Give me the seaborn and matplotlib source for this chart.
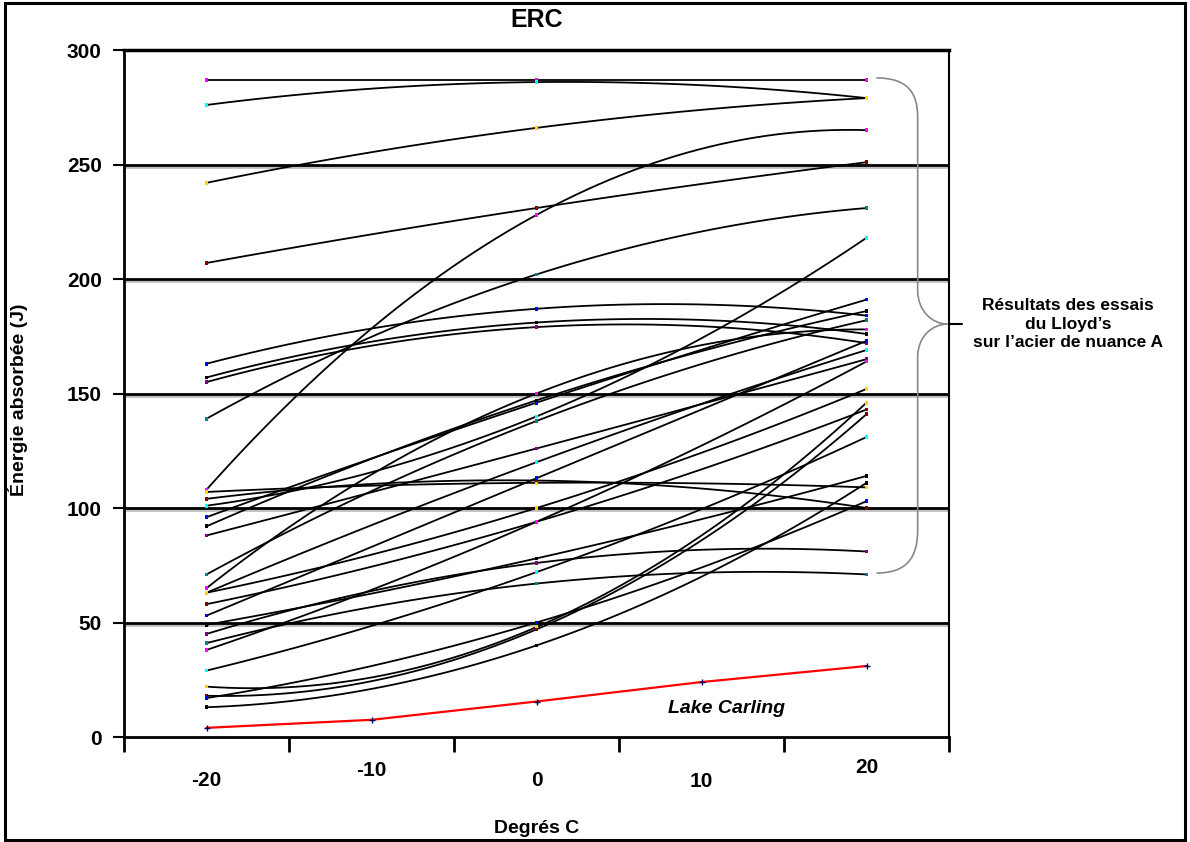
import matplotlib.pyplot as plt
import matplotlib.patheffects as pe
from matplotlib.path import Path
from matplotlib.patches import PathPatch, Rectangle
import seaborn as sns
import numpy as np
import pandas as pd

# Lloyd's tests, energy (J) read at -20, 0 and 20 degrees C
temps = [-20, 0, 20]
e_m20 = [287, 276, 242, 207, 163, 157, 155, 139, 108, 101, 107, 104, 96, 92, 88,
         71, 65, 63, 63, 58, 53, 49, 45, 41, 38, 29, 22, 18, 17, 13]
e_0 = [287, 286, 266, 231, 187, 181, 179, 202, 228, 140, 111, 112, 146, 147, 126,
       138, 150, 120, 100, 94, 113, 78, 76, 67, 94, 72, 48, 47, 50, 40]
e_20 = [287, 279, 279, 251, 184, 176, 172, 231, 265, 218, 109, 100, 191, 186, 165,
        182, 178, 169, 152, 143, 173, 114, 81, 71, 164, 131, 146, 141, 103, 111]

# Lake Carling
lake_t = [-20, -10, 0, 10, 20]
lake_e = [4, 7.5, 15.5, 24, 31]

x_labels = ['-20', '-10', '0', '10', '20']
grid_vals = [50, 100, 150, 200, 250]
marker_colors = ['#ff00ff', '#00ffff', '#ffd700', '#800000', '#0000ff', '#000000', '#800080', '#008080']

sns.set_theme(style='white')
plt.rcParams['font.family'] = ['Liberation Sans Narrow', 'Liberation Sans', 'DejaVu Sans']
plt.rcParams['font.weight'] = 'bold'
for key in ['text.color', 'axes.labelcolor', 'xtick.color', 'ytick.color']:
    plt.rcParams[key] = 'black'

# smooth curves through the three points (like the Excel smoothed line)
rows = []
pts = []
for i in range(len(e_m20)):
    ys = [e_m20[i], e_0[i], e_20[i]]
    c = np.polyfit(temps, ys, 2)
    xx = np.linspace(-20, 20, 60)
    for a, b in zip(xx, np.polyval(c, xx)):
        rows.append({'essai': i, 't': a, 'e': b})
    for a, b in zip(temps, ys):
        pts.append({'essai': i, 't': a, 'e': b})
curves = pd.DataFrame(rows)
points = pd.DataFrame(pts)
palette = {i: marker_colors[i % len(marker_colors)] for i in range(len(e_m20))}

fig = plt.figure(figsize=(11.9, 8.42), dpi=100)
ax = fig.add_axes([0.1042, 0.1247, 0.6933, 0.8159])

for v in grid_vals:
    ax.axhline(v, color='black', lw=2, zorder=1,
               path_effects=[pe.SimpleLineShadow(offset=(0, -1.5), shadow_color='gray', alpha=0.5), pe.Normal()])

sns.lineplot(data=curves, x='t', y='e', units='essai', estimator=None, sort=False,
             color='black', lw=1.3, ax=ax, legend=False, zorder=2)
sns.scatterplot(data=points, x='t', y='e', hue='essai', palette=palette, marker='s', s=7,
                linewidth=0, legend=False, ax=ax, zorder=3)

sns.lineplot(x=lake_t, y=lake_e, color='red', lw=1.6, ax=ax, zorder=4)
ax.scatter(lake_t, lake_e, marker='+', color='#000060', s=20, lw=1, zorder=5)

ax.set_xlim(-25, 25)
ax.set_ylim(0, 300)
ax.set_xticks(np.arange(-25, 26, 10))
ax.set_xticklabels([])
ax.set_yticks(np.arange(0, 301, 50))
ax.set_yticklabels([str(v) for v in range(0, 301, 50)], fontsize=15, fontweight='bold')
ax.tick_params(axis='y', direction='out', length=8, width=1.5, pad=8, left=True, color='black')
ax.tick_params(axis='x', direction='out', length=11, width=2, bottom=True, color='black')
ax.set_xlabel('')
ax.set_ylabel('')
for side, lw in [('top', 2.5), ('right', 1.5), ('left', 2), ('bottom', 2)]:
    ax.spines[side].set_visible(True)
    ax.spines[side].set_color('black')
    ax.spines[side].set_linewidth(lw)

# staggered x labels
label_y = [-0.064, -0.049, -0.064, -0.065, -0.045]
for t, lab, yy in zip(lake_t, x_labels, label_y):
    ax.text(t, yy, lab, transform=ax.get_xaxis_transform(), ha='center', va='center',
            fontsize=15, fontweight='bold')

ax.text(11.5, 12.5, 'Lake Carling', style='italic', fontweight='bold', fontsize=14,
        ha='center', va='center')

# brace on the right
verts = [(20.6, 287.8), (22.4, 287.8), (23.1, 282), (23.1, 270.7),
         (23.1, 195),
         (23.1, 186), (24.0, 180.3), (24.9, 180.3),
         (24.0, 180.3), (23.1, 175), (23.1, 166),
         (23.1, 90.4),
         (23.1, 78), (22.4, 71.6), (20.6, 71.6)]
codes = [Path.MOVETO, Path.CURVE4, Path.CURVE4, Path.CURVE4,
         Path.LINETO,
         Path.CURVE4, Path.CURVE4, Path.CURVE4,
         Path.CURVE4, Path.CURVE4, Path.CURVE4,
         Path.LINETO,
         Path.CURVE4, Path.CURVE4, Path.CURVE4]
ax.add_patch(PathPatch(Path(verts, codes), fill=False, ec='#888888', lw=1.2, clip_on=False, zorder=5))
ax.plot([25, 25.8], [180.3, 180.3], color='black', lw=1.5, clip_on=False)

fig.text(0.8975, 0.615, 'Résultats des essais\ndu Lloyd’s\nsur l’acier de nuance A',
         ha='center', va='center', fontsize=12.5, fontweight='bold', linespacing=1.3)
fig.text(0.451, 0.976, 'ERC', ha='center', va='center', fontsize=18, fontweight='bold')
fig.text(0.015, 0.525, 'Énergie absorbée (J)', rotation=90, ha='center', va='center',
         fontsize=14, fontweight='bold')
fig.text(0.451, 0.0166, 'Degrés C', ha='center', va='center', fontsize=14, fontweight='bold')

fig.patches.append(Rectangle((0.0042, 0.0024), 0.9916, 0.994, transform=fig.transFigure,
                             fill=False, lw=2.2, ec='black'))

fig.savefig('out.png', dpi=100)
